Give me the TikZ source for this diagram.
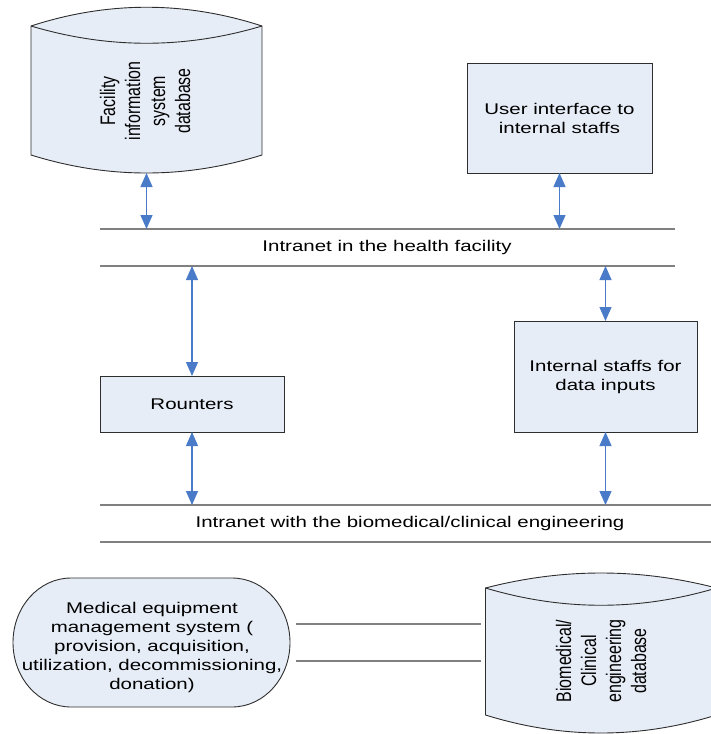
\documentclass[tikz,border=0pt]{standalone}
\usepackage{fontspec}
% wide sans for horizontal labels, narrow one for the rotated database labels
\newfontfamily\hfont[FakeStretch=1.32]{Liberation Sans}
\newfontfamily\vfont[FakeStretch=0.76]{Liberation Sans}
\usetikzlibrary{arrows.meta,calc}

\definecolor{boxfill}{HTML}{E7EDF7}
\definecolor{busgray}{HTML}{808080}
\definecolor{linkblue}{HTML}{4A7BC8}
\definecolor{edgecol}{HTML}{2E2E2E}

% database cylinder drawn around an (invisible) node:
% #1 node name, #2 top bulge, #3 inner arc sag, #4 bottom bulge (control offsets),
% #5 corner drop from north, #6 corner rise from south
\newcommand\drawdb[6]{%
  \coordinate (#1-tl) at ($(#1.north west)+(0,-#5)$);
  \coordinate (#1-tr) at ($(#1.north east)+(0,-#5)$);
  \coordinate (#1-bl) at ($(#1.south west)+(0,#6)$);
  \coordinate (#1-br) at ($(#1.south east)+(0,#6)$);
  \draw[outline] (#1-tl) .. controls ($(#1-tl)+(77pt,#2)$) and ($(#1-tr)+(-77pt,#2)$) .. (#1-tr)
     -- (#1-br) .. controls ($(#1-br)+(-77pt,-#4)$) and ($(#1-bl)+(77pt,-#4)$) .. (#1-bl) -- cycle;
  \draw[draw=edgecol, line width=0.9pt] (#1-tl) .. controls ($(#1-tl)+(77pt,-#3)$) and ($(#1-tr)+(-77pt,-#3)$) .. (#1-tr);
}

\begin{document}
\begin{tikzpicture}[x=1pt,y=-1pt,
  every node/.style={inner sep=0pt, outer sep=0pt},
  htext/.style={font=\hfont\fontsize{15.5}{19}\selectfont, align=center, text=black},
  vtext/.style={font=\vfont\fontsize{21}{25}\selectfont, align=center, text=black, rotate=90},
  boxnode/.style={draw=edgecol, line width=1pt, fill=boxfill},
  outline/.style={draw=edgecol, line width=0.9pt, fill=boxfill},
  bus/.style={draw=busgray, line width=1.8pt},
  link/.style={draw=linkblue, line width=1.2pt,
    {Triangle[length=14pt,width=12pt]}-{Triangle[length=14pt,width=12pt]}},
]
\useasboundingbox (0,0) rectangle (711,734);
\clip (0,0) rectangle (711,734);

% ---- databases ----
\node[minimum width=231pt, minimum height=166pt] (fac) at (146.5,90) {};
\drawdb{fac}{25pt}{23pt}{24pt}{19pt}{18pt}
\node[vtext] (factext) at (145,101) {Facility\\information\\system\\database};

\node[minimum width=231pt, minimum height=160pt] (bio) at (601,653) {};
\drawdb{bio}{20pt}{23pt}{24pt}{15pt}{18pt}
\node[vtext] (biotext) at (601,661) {Biomedical/\\Clinical\\engineering\\database};

% ---- process boxes ----
\node[boxnode, htext, minimum width=185pt, minimum height=110pt] (ui) at (559.5,118)
  {User interface to\\internal staffs};
\node[boxnode, htext, minimum width=184pt, minimum height=56pt] (rout) at (192,404)
  {Rounters};
\node[boxnode, htext, minimum width=183pt, minimum height=111pt] (inp) at (605.5,376.5)
  {Internal staffs for\\data inputs};

% ---- network buses ----
\coordinate (b1w) at (100,229); \coordinate (b1e) at (675,229);
\coordinate (b2w) at (100,266); \coordinate (b2e) at (675,266);
\coordinate (b3w) at (100,505); \coordinate (b3e) at (711,505);
\coordinate (b4w) at (100,542); \coordinate (b4e) at (711,542);
\draw[bus] (b1w) -- (b1e);
\draw[bus] (b2w) -- (b2e);
\draw[bus] (b3w) -- (b3e);
\draw[bus] (b4w) -- (b4e);
\node[htext] (net1) at (387,247) {Intranet in the health facility};
\node[htext] (net2) at (410,523) {Intranet with the biomedical/clinical engineering};

% ---- bidirectional links ----
\draw[link] (fac.south) -- (fac.south |- b1w);
\draw[link] (ui.south) -- (ui.south |- b1w);
\draw[link] (rout.north) -- (rout.north |- b2w);
\draw[link] (rout.south) -- (rout.south |- b3w);
\draw[link] (inp.north) -- (inp.north |- b2w);
\draw[link] (inp.south) -- (inp.south |- b3w);

% ---- equipment management system ----
\node[minimum width=277pt, minimum height=129pt] (mems) at (151.5,642.5) {};
\draw[outline] ([xshift=58pt]mems.north west) -- ([xshift=-58pt]mems.north east)
  arc[start angle=90, end angle=-90, x radius=58pt, y radius=64.5pt]
  -- ([xshift=58pt]mems.south west)
  arc[start angle=270, end angle=90, x radius=58pt, y radius=64.5pt] -- cycle;
\node[htext] (memstext) at (152,647)
  {Medical equipment\\management system (\\provision, acquisition,\\utilization, decommissioning,\\donation)};

\coordinate (l1) at (0,624);
\coordinate (l2) at (0,661);
\draw[bus, shorten <=6pt, shorten >=5pt] (mems.east |- l1) -- (bio.west |- l1);
\draw[bus, shorten <=6pt, shorten >=5pt] (mems.east |- l2) -- (bio.west |- l2);
\end{tikzpicture}
\end{document}
